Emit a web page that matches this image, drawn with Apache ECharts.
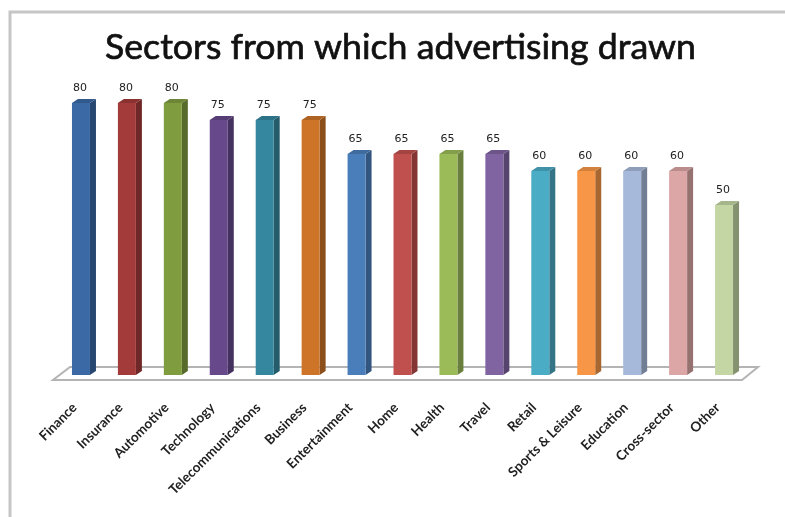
<!DOCTYPE html>
<html><head><meta charset="utf-8">
<style>html,body{margin:0;padding:0;background:#fff}#c{width:785px;height:517px;filter:blur(0.4px)}</style>
<script src="https://cdn.jsdelivr.net/npm/echarts@6/dist/echarts.min.js"></script>
</head><body><div id="c"></div>
<script>
const titleText = 'Sectors from which advertising drawn';
const categories = ['Finance','Insurance','Automotive','Technology','Telecommunications','Business','Entertainment','Home','Health','Travel','Retail','Sports & Leisure','Education','Cross-sector','Other'];
const values = [80,80,80,75,75,75,65,65,65,65,60,60,60,60,50];
const palette = ['#3A69A5','#A33B3A','#7F9D3F','#66488B','#35879F','#CE7429','#4A7EBB','#C0504D','#9BBB59','#8064A2','#4BACC6','#F79646','#A7B9DA','#DBA6A5','#C3D6A3'];

const BAR_W = 18, DX = 6, DY = 4;
const chart = echarts.init(document.getElementById('c'), null, {renderer:'canvas'});

function shade(hex, f){
  const n = parseInt(hex.slice(1),16);
  const ch = s => Math.round(((n>>s)&255)*f);
  return 'rgb('+ch(16)+','+ch(8)+','+ch(0)+')';
}
function floorItem(params, api){
  const cs = params.coordSys;
  const b = cs.y + cs.height;
  return {type:'polygon', silent:true, z2:0,
    shape:{points:[[cs.x+12,b-8],[cs.x+cs.width+11,b-8],[cs.x+cs.width-5,b+5],[cs.x-5,b+5]]},
    style:{fill:'#fff',stroke:'#b4b4b4',lineWidth:2}};
}
function barItem(params, api){
  const i = api.value(0), v = api.value(1);
  const top = api.coord([i,v]), base = api.coord([i,0]);
  const x0 = top[0]-BAR_W/2, x1 = top[0]+BAR_W/2, yT = top[1], yB = base[1];
  const c = palette[i];
  const side = shade(c,0.68), cap = shade(c,0.85);
  return {type:'group',children:[
    {type:'polygon',shape:{points:[[x1,yT],[x1+DX,yT-DY],[x1+DX,yB-DY],[x1,yB]]},style:{fill:side}},
    {type:'polygon',shape:{points:[[x0,yT],[x0+DX,yT-DY],[x1+DX,yT-DY],[x1,yT]]},style:{fill:cap}},
    {type:'rect',shape:{x:x0,y:yT,width:BAR_W,height:yB-yT},style:{fill:c}},
    {type:'text',style:{x:top[0]-1,y:yT-15,text:String(v),align:'center',verticalAlign:'middle',
      font:'11px "DejaVu Sans"',fill:'#222'}}
  ]};
}
chart.setOption({
  animation:false,
  backgroundColor:'#fff',
  title:{text:titleText,left:100,top:24,
    textStyle:{fontFamily:'Lato',fontSize:35.7,fontWeight:'normal',color:'#111',textBorderColor:'#111',textBorderWidth:0.7}},
  grid:{left:58,top:103,width:689,height:272},
  xAxis:{type:'category',data:categories,
    axisLine:{show:false},axisTick:{show:false},
    axisLabel:{rotate:45,interval:0,margin:24,padding:[0,9,0,0],fontFamily:'Lato',fontSize:13.5,fontWeight:'bold',color:'#222'}},
  yAxis:{type:'value',min:0,max:80,show:false},
  series:[
    {type:'custom',data:[[0,0]],renderItem:floorItem,silent:true,z:1},
    {type:'custom',data:values.map((v,i)=>[i,v]),renderItem:barItem,z:2,encode:{x:0,y:1}}
  ],
  graphic:[
    {type:'polyline',silent:true,shape:{points:[[10,517],[10,12],[785,12]]},style:{fill:'none',stroke:'#c6c6c6',lineWidth:3}}
  ]
});
</script></body></html>
